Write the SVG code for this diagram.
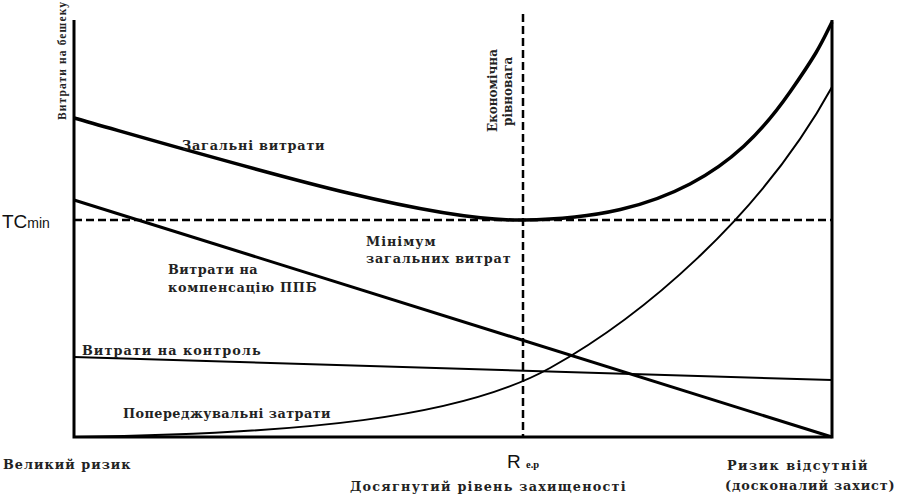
<svg xmlns="http://www.w3.org/2000/svg" width="898" height="494" viewBox="0 0 898 494">
<style>
.lbl{font-family:"DejaVu Serif","Liberation Serif",serif;font-weight:bold;font-size:12.8px;fill:#222;letter-spacing:0.4px}
.sm{font-family:"Liberation Serif","DejaVu Serif",serif;font-weight:bold;fill:#222}
.sans{font-family:"Liberation Sans",Arial,sans-serif;fill:#111}
.ax{stroke:#000;stroke-width:3;fill:none}
.c{stroke:#000;fill:none}
.d{stroke:#000;stroke-width:2.5;stroke-dasharray:8,4;fill:none}
</style>
<rect width="898" height="494" fill="#fff"/>
<g id="axes">
<path class="ax" d="M74,20 V437 H832 V20"/>
</g>
<g id="connectors">
<line class="d" x1="74" y1="220" x2="832" y2="220"/>
<line class="d" x1="523" y1="14" x2="523" y2="437" stroke-dasharray="6,3"/>
<path id="total" class="c" stroke-width="3.5" d="M74,118 C250,168 430,222 523,220 C600,219 650,205 690,184 S760,135 790,92 S822,42 832,22"/>
<line id="comp" class="c" stroke-width="3" x1="74" y1="200" x2="832" y2="437"/>
<line id="control" class="c" stroke-width="2" x1="74" y1="357" x2="832" y2="380"/>
<path id="prevent" class="c" stroke-width="2" d="M74,437 C300,434 460,418 550,368 S760,218 832,87"/>
</g>
<g id="labels">
<text class="sm" transform="translate(66,120) rotate(-90)" font-size="11.5" textLength="118" lengthAdjust="spacing">Витрати на бешеку</text>
<text class="sans" x="2" y="228" font-size="19">TC<tspan font-size="14">min</tspan></text>
<text class="lbl" transform="translate(497,132) rotate(-90)" style="letter-spacing:0;font-size:12px">Економічна</text>
<text class="lbl" transform="translate(512,126) rotate(-90)" style="letter-spacing:0;font-size:12px">рівновага</text>
<text class="lbl" x="182" y="150" textLength="143" lengthAdjust="spacing">Загальні витрати</text>
<text class="lbl" x="366" y="246" textLength="70" lengthAdjust="spacing">Мінімум</text>
<text class="lbl" x="366" y="263" textLength="145" lengthAdjust="spacing">загальних витрат</text>
<text class="lbl" x="168" y="274" textLength="90" lengthAdjust="spacing">Витрати на</text>
<text class="lbl" x="168" y="292" textLength="149" lengthAdjust="spacing">компенсацію ППБ</text>
<text class="lbl" x="82" y="355" textLength="179" lengthAdjust="spacing">Витрати на контроль</text>
<text class="lbl" x="123" y="418" textLength="208" lengthAdjust="spacing">Попереджувальні затрати</text>
<text class="lbl" x="3" y="469" textLength="128" lengthAdjust="spacing">Великий ризик</text>
<text class="sans" x="507" y="468" font-size="19">R <tspan font-size="10.5" font-family="Liberation Serif,serif" font-weight="bold">е.р</tspan></text>
<text class="lbl" x="350" y="491" textLength="276" lengthAdjust="spacing">Досягнутий рівень захищеності</text>
<text class="lbl" x="727" y="470" textLength="141" lengthAdjust="spacing">Ризик відсутній</text>
<text class="lbl" x="725" y="490" textLength="170" lengthAdjust="spacing">(досконалий захист)</text>
</g>
</svg>
